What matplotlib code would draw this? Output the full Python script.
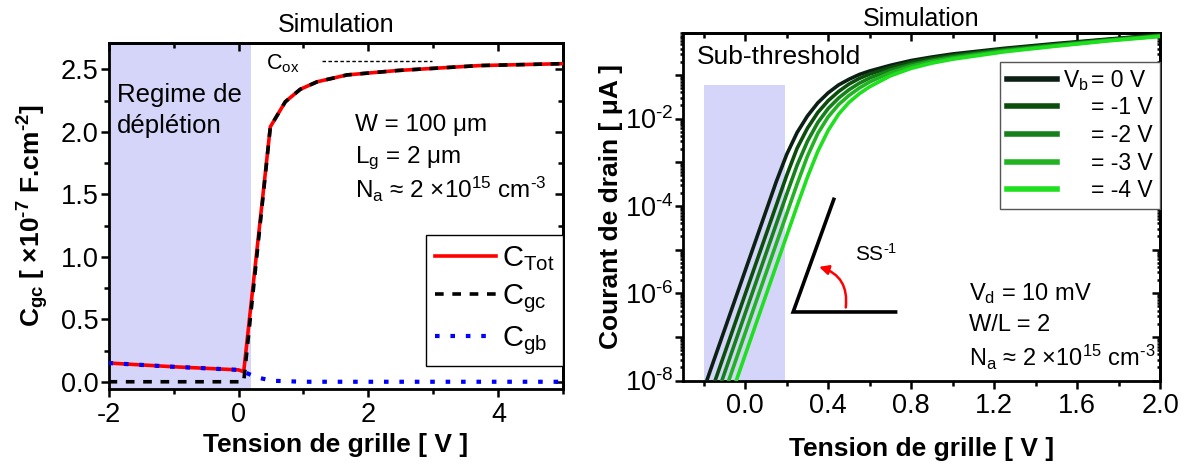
import matplotlib
matplotlib.use("Agg")
import matplotlib.pyplot as plt
from matplotlib.ticker import (MultipleLocator, LogLocator, FixedLocator, FixedFormatter,
                               NullFormatter, FormatStrFormatter)
from matplotlib.patches import FancyArrowPatch, Rectangle

plt.rcParams["font.family"] = ["Liberation Sans", "DejaVu Sans"]
plt.rcParams["mathtext.fontset"] = "custom"
plt.rcParams["mathtext.rm"] = "Liberation Sans"
plt.rcParams["mathtext.it"] = "Liberation Sans:italic"
plt.rcParams["mathtext.bf"] = "Liberation Sans:bold"
plt.rcParams["mathtext.default"] = "regular"
plt.rcParams["axes.unicode_minus"] = False

HY = "\u2010"  # short hyphen for superscript exponents

# ---- left panel: C-V simulation ----
vg_tot = [-2.0, -1.0, 0.0, 0.08, 0.49, 0.72, 0.95, 1.21, 1.67, 2.44, 3.72, 5.0]
c_tot = [0.15, 0.12, 0.095, 0.08, 2.04, 2.24, 2.34, 2.40, 2.455, 2.49, 2.53, 2.545]
vg_gc = [-2.0, 0.08, 0.49, 0.72, 0.95, 1.21, 1.67, 2.44, 3.72, 5.0]
c_gc = [0.0, 0.0, 2.04, 2.24, 2.34, 2.40, 2.455, 2.49, 2.53, 2.545]
vg_gb = [-2.0, -1.0, 0.0, 0.08, 0.28, 0.52, 1.0, 5.0]
c_gb = [0.15, 0.12, 0.095, 0.08, 0.035, 0.008, 0.0, 0.0]
cox_x = [1.28, 2.98]
cox_y = [2.57, 2.57]

# ---- right panel: Id-Vg, log10(Id [uA]) for each body bias ----
vg_id = [-0.2, 0.0, 0.15, 0.2, 0.25, 0.3, 0.35, 0.4, 0.45, 0.5, 0.55, 0.6,
         0.7, 0.8, 0.9, 1.0, 1.25, 1.5, 1.75, 2.0]
log_id = {
    "0": [-8.20, -5.48, -3.44, -2.82, -2.32, -1.94, -1.64, -1.41, -1.23, -1.10, -0.99, -0.91,
          -0.78, -0.67, -0.59, -0.52, -0.39, -0.28, -0.18, -0.08],
    "-1": [-8.75, -6.02, -3.98, -3.30, -2.68, -2.22, -1.86, -1.59, -1.38, -1.21, -1.08, -0.98,
           -0.83, -0.71, -0.62, -0.55, -0.41, -0.30, -0.19, -0.09],
    "-2": [-9.20, -6.46, -4.41, -3.73, -3.07, -2.52, -2.09, -1.77, -1.53, -1.34, -1.19, -1.07,
           -0.89, -0.76, -0.66, -0.58, -0.43, -0.31, -0.20, -0.10],
    "-3": [-9.65, -6.91, -4.86, -4.18, -3.50, -2.86, -2.34, -1.96, -1.68, -1.47, -1.30, -1.16,
           -0.95, -0.80, -0.69, -0.61, -0.45, -0.33, -0.21, -0.11],
    "-4": [-10.15, -7.41, -5.36, -4.68, -4.00, -3.34, -2.75, -2.27, -1.90, -1.63, -1.43, -1.27,
           -1.02, -0.85, -0.73, -0.64, -0.47, -0.34, -0.22, -0.12],
}
vb_labels = ["= 0 V", "= -1 V", "= -2 V", "= -3 V", "= -4 V"]
vb_colors = ["#0c1f14", "#0b4d0b", "#16801a", "#22b322", "#1ee01e"]
# slope sketch (SS^-1)
ss_x = [0.427, 0.231, 0.725]
ss_y = [10 ** -3.85, 10 ** -6.43, 10 ** -6.43]

shade = "#d5d5fa"
TICK = 19.5

fig = plt.figure(figsize=(11.86, 4.67), dpi=100)
ax1 = fig.add_axes([0.0915, 0.167, 0.3836, 0.7403])
ax2 = fig.add_axes([0.5759, 0.1852, 0.4022, 0.7441])


def style_axes(ax, xmaj, xmin, ymaj=None, ymin=None):
    for sp in ax.spines.values():
        sp.set_linewidth(2.0)
    ax.tick_params(which="both", direction="out", width=1.8, labelsize=TICK)
    ax.tick_params(axis="y", pad=1)
    ax.tick_params(axis="x", pad=3)
    ax.tick_params(which="major", length=6)
    ax.tick_params(which="minor", length=3.5)
    top = ax.secondary_xaxis("top")
    right = ax.secondary_yaxis("right")
    top.xaxis.set_major_locator(MultipleLocator(xmaj))
    top.xaxis.set_minor_locator(MultipleLocator(xmin))
    if ymaj is not None:
        right.yaxis.set_major_locator(MultipleLocator(ymaj))
        right.yaxis.set_minor_locator(MultipleLocator(ymin))
    for sec in (top, right):
        sec.tick_params(which="both", direction="in", width=1.8,
                        labeltop=False, labelright=False)
        sec.tick_params(which="major", length=6)
        sec.tick_params(which="minor", length=3.5)
        for sp in sec.spines.values():
            sp.set_linewidth(2.0)
    return top, right


# ---------------- left ----------------
ax1.axvspan(-2, 0.19, color=shade, lw=0, zorder=0)
l_tot, = ax1.plot(vg_tot, c_tot, color="red", lw=2.6, label="C$_{Tot}$", zorder=3)
l_gc, = ax1.plot(vg_gc, c_gc, color="black", lw=2.6, ls=(0, (2.4, 2.4)), label="C$_{gc}$", zorder=4)
l_gb, = ax1.plot(vg_gb, c_gb, color="#0000ff", lw=3.0, ls=(0, (1.1, 2.6)), label="C$_{gb}$", zorder=5)
ax1.plot(cox_x, cox_y, color="black", lw=1.0, ls=(0, (2.5, 1.8)))
ax1.text(0.43, 2.50, "C$_{ox}$", fontsize=15.5, va="baseline", ha="left")
ax1.text(-1.87, 2.17, "Regime de\ndéplétion", fontsize=18.5, va="center", ha="left", linespacing=1.35)
ax1.text(1.80, 2.054, "W = 100 μm", fontsize=17.5, va="center")
ax1.text(1.80, 1.79, "L$_g$ = 2 μm", fontsize=17.5, va="center")
ax1.text(1.80, 1.535, "N$_a$ ≈ 2 ×10$^{15}$ cm$^{" + HY + "3}$", fontsize=17.5, va="center")

ax1.set_xlim(-2, 5)
ax1.set_ylim(-0.058, 2.708)
ax1.xaxis.set_major_locator(MultipleLocator(2))
ax1.xaxis.set_minor_locator(MultipleLocator(1))
ax1.yaxis.set_major_locator(MultipleLocator(0.5))
ax1.yaxis.set_minor_locator(MultipleLocator(0.25))
ax1.yaxis.set_major_formatter(FormatStrFormatter("%.1f"))
style_axes(ax1, 2, 1, 0.5, 0.25)
ax1.set_title("Simulation", fontsize=18, pad=8)
ax1.set_xlabel("Tension de grille [ V ]", fontsize=19, fontweight="bold", labelpad=4)
ax1.set_ylabel(r"C$_\mathbf{gc}$ [ ×10$^\mathbf{" + HY + r"7}$ F.cm$^\mathbf{" + HY + "2}$]",
               fontsize=19, fontweight="bold", labelpad=7)
leg1 = ax1.legend(handles=[l_tot, l_gc, l_gb], loc="lower right", bbox_to_anchor=(1.0, 0.067),
                  fontsize=21, frameon=True, fancybox=False, framealpha=1, edgecolor="black",
                  handlelength=2.1, handletextpad=0.2, labelspacing=0.32, borderpad=0.3,
                  borderaxespad=0)
leg1.get_frame().set_linewidth(1.0)

# ---------------- right ----------------
ax2.set_yscale("log")
ax2.add_patch(Rectangle((-0.2, 1e-8), 0.39, 10 ** -1.24 - 1e-8, color=shade, lw=0, zorder=0))
for key, lab, col in zip(log_id, vb_labels, vb_colors):
    ax2.plot(vg_id, [10 ** v for v in log_id[key]], color=col, lw=2.6, label=lab, zorder=3)
ax2.plot(ss_x, ss_y, color="black", lw=2.6, solid_joinstyle="miter")
arr = FancyArrowPatch((0.483, 10 ** -6.39), (0.343, 10 ** -5.38), connectionstyle="arc3,rad=0.45",
                      arrowstyle="-|>", mutation_scale=14, color="red", lw=1.8)
ax2.add_patch(arr)
ax2.text(0.53, 10 ** -5.1, "SS$^{" + HY + "1}$", fontsize=15, va="center")
ax2.text(-0.235, 10 ** -0.585, "Sub-threshold", fontsize=19, va="center")
ax2.text(1.077, 10 ** -6.0, "V$_d$ = 10 mV", fontsize=17, va="center")
ax2.text(1.077, 10 ** -6.73, "W/L = 2", fontsize=17, va="center")
ax2.text(1.077, 10 ** -7.47, "N$_a$ ≈ 2 ×10$^{15}$ cm$^{" + HY + "3}$", fontsize=17, va="center")

ax2.set_xlim(-0.3, 2.0)
ax2.set_ylim(1e-8, 10 ** -0.04)
ax2.xaxis.set_major_locator(MultipleLocator(0.4))
ax2.xaxis.set_minor_locator(MultipleLocator(0.2))
ax2.xaxis.set_major_formatter(FormatStrFormatter("%.1f"))
ytk = [1e-8, 1e-7, 1e-6, 1e-5, 1e-4, 1e-3, 1e-2, 1e-1]
ytl = ["10$^{" + HY + "8}$", "", "10$^{" + HY + "6}$", "", "10$^{" + HY + "4}$", "",
       "10$^{" + HY + "2}$", ""]
ax2.yaxis.set_major_locator(FixedLocator(ytk))
ax2.yaxis.set_major_formatter(FixedFormatter(ytl))
ax2.yaxis.set_minor_locator(LogLocator(base=10, subs=[2, 3, 4, 5, 6, 7, 8, 9], numticks=20))
ax2.yaxis.set_minor_formatter(NullFormatter())
top2, right2 = style_axes(ax2, 0.4, 0.2)
right2.yaxis.set_major_locator(FixedLocator(ytk))
right2.yaxis.set_minor_locator(LogLocator(base=10, subs=[2, 3, 4, 5, 6, 7, 8, 9], numticks=20))
right2.tick_params(labelright=False)
ax2.yaxis.set_tick_params(which="minor", length=2)
right2.yaxis.set_tick_params(which="minor", length=2)
ax2.set_title("Simulation", fontsize=18, pad=5)
ax2.set_xlabel("Tension de grille [ V ]", fontsize=19, fontweight="bold", labelpad=13)
ax2.set_ylabel("Courant de drain [ μA ]", fontsize=19, fontweight="bold", labelpad=1)
leg2 = ax2.legend(loc="upper right", bbox_to_anchor=(1.0, 0.9165), fontsize=16.5, frameon=True,
                  fancybox=False, framealpha=1, edgecolor="#555555", handlelength=2.2,
                  handletextpad=1.5, labelspacing=0.2, borderpad=0.3, borderaxespad=0)
leg2.get_frame().set_linewidth(1.0)
for ln in leg2.get_lines():
    ln.set_linewidth(4)
ax2.annotate("V$_b$", xy=(0, 0), xycoords=leg2.get_texts()[0], xytext=(-2, 3.5),
             textcoords="offset points", ha="right", va="baseline", fontsize=16.5, zorder=10)

fig.savefig("out.png", dpi=100)
